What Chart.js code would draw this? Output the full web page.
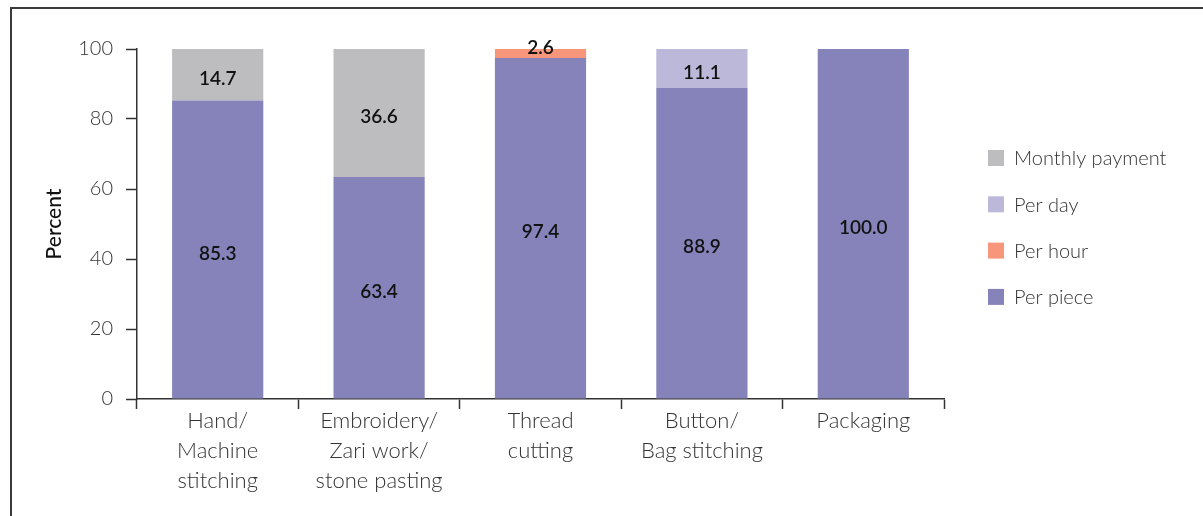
<!DOCTYPE html>
<html>
<head>
<meta charset="utf-8">
<script src="https://cdn.jsdelivr.net/npm/chart.js@4/dist/chart.umd.min.js"></script>
<style>
  html, body { margin: 0; padding: 0; background: #fff; overflow: hidden; }
  .chart-container { position: relative; width: 1203px; height: 516px; }
  .frame {
    position: absolute; left: 10px; top: 7px; right: -5px; bottom: -5px;
    border-top: 2px solid #3a3a3a; border-left: 2px solid #3a3a3a;
    pointer-events: none;
  }
</style>
</head>
<body>
<div class="chart-container">
  <canvas id="payChart" width="1203" height="516"></canvas>
  <div class="frame"></div>
</div>
<script>
// Mode of payment by activity (percent of workers)
const categories = [
  ['Hand/', 'Machine', 'stitching'],
  ['Embroidery/', 'Zari work/', 'stone pasting'],
  ['Thread', 'cutting'],
  ['Button/', 'Bag stitching'],
  ['Packaging']
];
const perPiece   = [85.3, 63.4, 97.4, 88.9, 100.0];
const perHour    = [0, 0, 2.6, 0, 0];
const perDay     = [0, 0, 0, 11.1, 0];
const monthly    = [14.7, 36.6, 0, 0, 0];
const yTicks     = [0, 20, 40, 60, 80, 100];

const FONT = 'Lato, "Open Sans", sans-serif';
const INK = '#333333';

// value labels in the middle of each segment
const segmentLabels = {
  id: 'segmentLabels',
  afterDatasetsDraw(chart) {
    const ctx = chart.ctx;
    ctx.save();
    ctx.font = '600 19px ' + FONT;
    ctx.fillStyle = '#111';
    ctx.textAlign = 'center';
    ctx.textBaseline = 'middle';
    chart.data.datasets.forEach((ds, i) => {
      chart.getDatasetMeta(i).data.forEach((bar, j) => {
        const v = ds.data[j];
        if (!v) return;
        const h = bar.base - bar.y;
        const y = h < 20 ? bar.y - 1 : bar.y + h / 2 + 4;
        ctx.fillText(v.toFixed(1), bar.x, y);
      });
    });
    ctx.restore();
  }
};

// legend on the right, top entry is the last dataset
const sideLegend = {
  id: 'sideLegend',
  afterDraw(chart) {
    const ctx = chart.ctx;
    const items = chart.data.datasets.slice().reverse();
    ctx.save();
    ctx.font = '300 20px ' + FONT;
    ctx.textBaseline = 'middle';
    items.forEach((ds, k) => {
      const y = 158 + k * 46.3;
      ctx.fillStyle = ds.backgroundColor;
      ctx.fillRect(988, y - 8, 16, 16);
      ctx.fillStyle = INK;
      ctx.fillText(ds.label, 1014, y + 1);
    });
    ctx.restore();
  }
};

const ctx = document.getElementById('payChart').getContext('2d');
const payChart = new Chart(ctx, {
  type: 'bar',
  data: {
    labels: categories,
    datasets: [
      { label: 'Per piece', data: perPiece, backgroundColor: '#8583b9' },
      { label: 'Per hour', data: perHour, backgroundColor: '#f7967b' },
      { label: 'Per day', data: perDay, backgroundColor: '#bbb8d9' },
      { label: 'Monthly payment', data: monthly, backgroundColor: '#bdbdbf' }
    ]
  },
  options: {
    responsive: false,
    animation: false,
    devicePixelRatio: 1,
    categoryPercentage: 0.565,
    barPercentage: 1,
    layout: { padding: { left: 0, top: 49, right: 259, bottom: 0 } },
    scales: {
      x: {
        stacked: true,
        afterFit: (scale) => { scale.height = 117; },
        grid: {
          drawOnChartArea: false,
          drawTicks: true,
          tickLength: 10,
          tickWidth: 1.5,
          tickColor: INK,
          offset: true
        },
        border: { display: true, color: INK, width: 1.5 },
        ticks: {
          color: INK,
          padding: -3,
          maxRotation: 0,
          autoSkip: false,
          font: { family: FONT, size: 22, weight: '300', lineHeight: 1.37 }
        }
      },
      y: {
        stacked: true,
        min: 0,
        max: 100,
        afterFit: (scale) => { scale.width = 137; },
        afterBuildTicks: (scale) => { scale.ticks = yTicks.map(v => ({ value: v })); },
        grid: {
          drawOnChartArea: false,
          drawTicks: true,
          tickLength: 11,
          tickWidth: 1.5,
          tickColor: INK
        },
        border: { display: true, color: INK, width: 1.5 },
        ticks: {
          color: INK,
          padding: 13,
          font: { family: FONT, size: 20, weight: '300' }
        },
        title: {
          display: true,
          text: 'Percent',
          color: '#111',
          padding: { top: 42, bottom: 0 },
          font: { family: FONT, size: 21, weight: '500' }
        }
      }
    },
    plugins: {
      legend: { display: false },
      tooltip: { enabled: false }
    }
  },
  plugins: [segmentLabels, sideLegend]
});
</script>
</body>
</html>
